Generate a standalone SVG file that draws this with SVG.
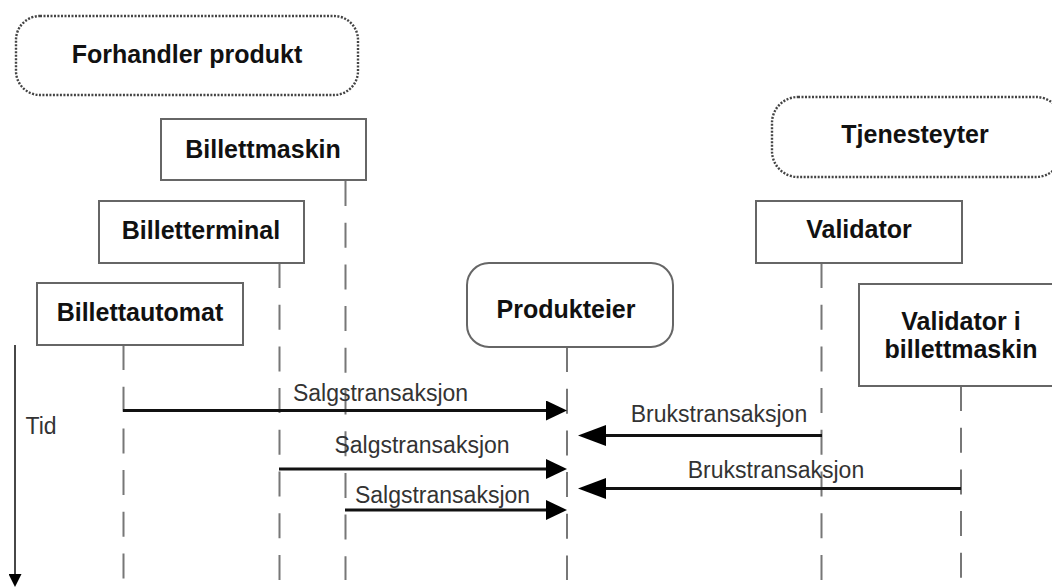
<svg xmlns="http://www.w3.org/2000/svg" width="1052" height="588" viewBox="0 0 1052 588">
<style>
.bx{fill:#fff;stroke:#666;stroke-width:2}
.grp{fill:#fff;stroke:#444;stroke-width:2.4;stroke-dasharray:2 1.5}
.t{font-family:"Liberation Sans",Arial,sans-serif;font-weight:bold;font-size:25px;fill:#111;text-anchor:middle}
.lb{font-family:"Liberation Sans",Arial,sans-serif;font-size:23px;fill:#333;text-anchor:middle}
.ll{fill:none;stroke:#777;stroke-width:2;stroke-dasharray:25 16.7}
.msg{fill:none;stroke:#111;stroke-width:3}
</style>
<defs>
<marker id="aR" viewBox="0 0 21 20" refX="10" refY="10" markerWidth="21" markerHeight="20" markerUnits="userSpaceOnUse" orient="auto"><path d="M0,0 L21,10 L0,20 z" fill="#000"/></marker>
<marker id="aL" viewBox="0 0 28 21" refX="14" refY="10.5" markerWidth="28" markerHeight="21" markerUnits="userSpaceOnUse" orient="auto"><path d="M0,0 L28,10.5 L0,21 z" fill="#000"/></marker>
<marker id="aT" viewBox="0 0 14 13" refX="1" refY="6.5" markerWidth="14" markerHeight="13" markerUnits="userSpaceOnUse" orient="auto"><path d="M0,0 L13,6.5 L0,13 z" fill="#000"/></marker>
</defs>
<rect width="1052" height="588" fill="#fff"/>

<g id="forhandler">
<rect class="grp" x="16" y="16" width="342" height="79" rx="24"/>
<text class="t" x="187" y="63">Forhandler produkt</text>
</g>
<g id="tjenesteyter">
<rect class="grp" x="772" y="97" width="290" height="80" rx="26"/>
<text class="t" x="915" y="143">Tjenesteyter</text>
</g>

<g id="lifelines">
<path class="ll" d="M123.5,345 V580"/>
<path class="ll" d="M279.5,263 V580"/>
<path class="ll" d="M345.5,181 V580"/>
<path class="ll" d="M567,347 V580"/>
<path class="ll" d="M821.5,263 V580"/>
<path class="ll" d="M961,386 V580"/>
</g>

<g id="billettmaskin">
<rect class="bx" x="161" y="119" width="205" height="61"/>
<text class="t" x="263" y="158">Billettmaskin</text>
</g>
<g id="billetterminal">
<rect class="bx" x="99" y="201" width="205" height="62"/>
<text class="t" x="201" y="239">Billetterminal</text>
</g>
<g id="billettautomat">
<rect class="bx" x="37" y="283" width="206" height="62"/>
<text class="t" x="140" y="321">Billettautomat</text>
</g>
<g id="produkteier">
<rect class="bx" x="467" y="263" width="206" height="84" rx="22"/>
<text class="t" x="566" y="318">Produkteier</text>
</g>
<g id="validator">
<rect class="bx" x="756" y="201" width="206" height="62"/>
<text class="t" x="859" y="238">Validator</text>
</g>
<g id="validator-billettmaskin">
<rect class="bx" x="859" y="284" width="210" height="102"/>
<text class="t" x="961" y="330">Validator i</text>
<text class="t" x="961" y="358">billettmaskin</text>
</g>

<g id="connectors">
<path class="msg" d="M123,410.5 H556" marker-end="url(#aR)"/>
<path class="msg" d="M279,469 H556" marker-end="url(#aR)"/>
<path class="msg" d="M345,510 H556" marker-end="url(#aR)"/>
<path class="msg" d="M822,435.5 H592" marker-end="url(#aL)"/>
<path class="msg" d="M961,488.5 H592" marker-end="url(#aL)"/>
<path d="M15,345 V575" fill="none" stroke="#333" stroke-width="1.8" marker-end="url(#aT)"/>
<text class="lb" x="380.5" y="401">Salgstransaksjon</text>
<text class="lb" x="422" y="453">Salgstransaksjon</text>
<text class="lb" x="442.5" y="503">Salgstransaksjon</text>
<text class="lb" x="719" y="422">Brukstransaksjon</text>
<text class="lb" x="776" y="478">Brukstransaksjon</text>
<text class="lb" x="41" y="434">Tid</text>
</g>
</svg>
